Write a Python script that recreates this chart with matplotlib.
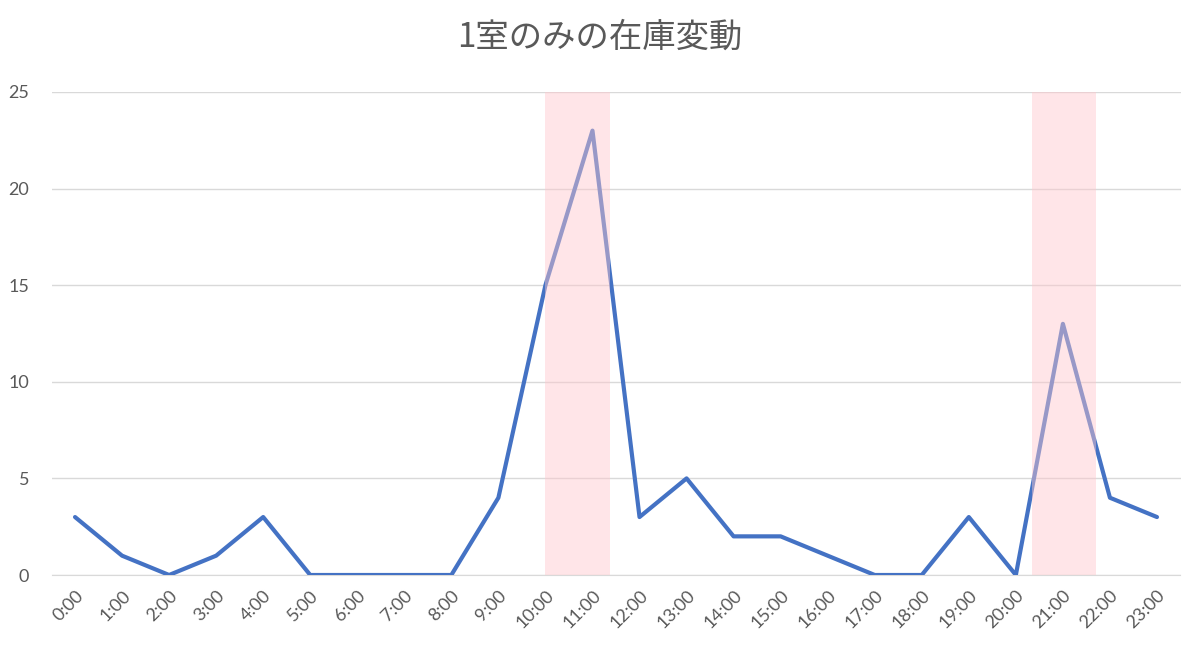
import matplotlib
matplotlib.use("Agg")
import matplotlib.pyplot as plt

hours = [f"{h}:00" for h in range(24)]
values = [3, 1, 0, 1, 3, 0, 0, 0, 0, 4, 15, 23, 3, 5, 2, 2, 1, 0, 0, 3, 0, 13, 4, 3]
bands = [(10.0, 11.37), (20.34, 21.7)]
title = "1室のみの在庫変動"

plt.rcParams['font.family'] = ['Lato', 'Noto Sans CJK JP', 'DejaVu Sans']

fig = plt.figure(figsize=(12, 6.46), dpi=100)
ax = fig.add_axes([51.5/1200, 1 - 575/646, (1180.5 - 51.5)/1200, (575 - 92)/646])

x = list(range(len(values)))
ax.plot(x, values, color='#4472C4', linewidth=3.0, solid_joinstyle='round', solid_capstyle='round', zorder=3)
for a, b in bands:
    ax.axvspan(a, b, ymin=0, ymax=1, facecolor=(1.0, 0.78, 0.80), alpha=0.45, edgecolor='none', zorder=4)

ax.set_xlim(-0.5, 23.5)
ax.set_ylim(0, 25)
ax.set_yticks([0, 5, 10, 15, 20, 25])
ax.set_xticks(x)
ax.set_xticklabels(hours, rotation=45, ha='right', rotation_mode='anchor')
ax.grid(axis='y', color='#D9D9D9', linewidth=1.0, zorder=0)
ax.set_axisbelow(True)
for s in ['top', 'right', 'left']:
    ax.spines[s].set_visible(False)
ax.spines['bottom'].set_color('#D9D9D9')
ax.tick_params(axis='both', length=0, colors='#595959', labelsize=13)
ax.tick_params(axis='y', pad=16)
ax.tick_params(axis='x', pad=9)

fig.text(0.5, 1 - 37/646, title, ha='center', va='center', fontsize=24, color='#595959',
         family=['Noto Sans CJK JP', 'DejaVu Sans'])

fig.savefig('out.png', dpi=100, facecolor='white')
